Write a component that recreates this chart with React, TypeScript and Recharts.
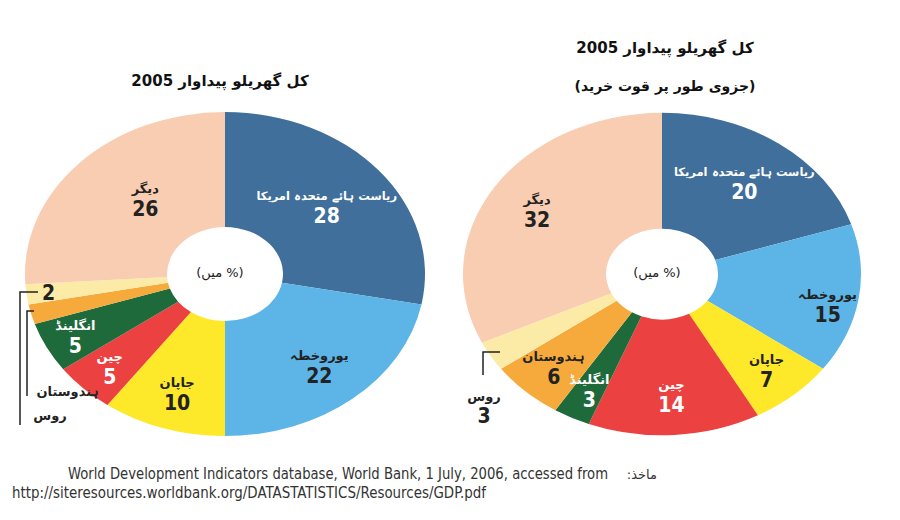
import { PieChart, Pie, Cell } from 'recharts';

const regionNames = ['ریاست ہائے متحدہ امریکا', 'یوروخطہ', 'جاپان', 'چین', 'انگلینڈ', 'ہندوستان', 'روس', 'دیگر'];
const gdp2005 = [28, 22, 10, 5, 5, 2, 2, 26];
const gdpPpp2005 = [20, 15, 7, 14, 3, 6, 3, 32];
const sliceColors = ['#3f6f9a', '#5cb5e6', '#fde829', '#ec4141', '#1f6a3b', '#f6aa3c', '#fbeba6', '#f8cdb1'];
const labelInk = ['#ffffff', '#222222', '#222222', '#ffffff', '#ffffff', '#222222', '#222222', '#222222'];

const leftData = regionNames.map((name, i) => ({ name, value: gdp2005[i] }));
const rightData = regionNames.map((name, i) => ({ name, value: gdpPpp2005[i] }));

const SY = 0.81;
const RAD = Math.PI / 180;
const urdu = '"DejaVu Sans", sans-serif';
const cond = '"DejaVu Sans Condensed", "Liberation Sans Narrow", "Liberation Sans", sans-serif';

// slices labelled inside the ring: radius and small angle nudge
const leftLabelPos: Record<number, [number, number]> = {
  0: [132, 0], 1: [148, 0], 2: [155, 0], 3: [163, 0], 4: [168, 0], 7: [122, -6],
};
const rightLabelPos: Record<number, [number, number]> = {
  0: [140, 0], 1: [170, -4], 2: [158, 0], 3: [150, 0], 4: [160, 0], 5: [158, 0], 7: [148, 0],
};

function makeLabel(pos: Record<number, [number, number]>) {
  return (props: any) => {
    const { cx, cy, midAngle, index, value, name } = props;
    const p = pos[index];
    if (!p) return null;
    const a = (midAngle + p[1]) * RAD;
    const x = cx + p[0] * Math.cos(-a);
    const y = cy + p[0] * Math.sin(-a);
    const ink = labelInk[index];
    return (
      <g transform={`translate(${x},${y}) scale(1,${1 / SY})`}>
        <text x={0} y={-6} textAnchor="middle" fill={ink} fontFamily={urdu} fontSize={index === 0 ? 11.5 : 13} fontWeight="bold" direction="rtl">
          {name}
        </text>
        <text x={0} y={17} textAnchor="middle" fill={ink} fontFamily={cond} fontSize={21} fontWeight="bold">
          {value}
        </text>
      </g>
    );
  };
}

export default function App() {
  return (
    <div style={{ position: 'relative', width: 900, height: 520, background: '#fff', overflow: 'hidden' }}>
      <style>{'body{margin:0}'}</style>
      <div style={{ position: 'absolute', left: 0, top: 0, width: 900, height: 520, transform: `scaleY(${SY})`, transformOrigin: '0 270px' }}>
        <PieChart width={900} height={520}>
          <Pie
            data={leftData}
            dataKey="value"
            nameKey="name"
            cx={220}
            cy={270}
            innerRadius={58}
            outerRadius={200}
            startAngle={90}
            endAngle={-270}
            stroke="none"
            labelLine={false}
            label={makeLabel(leftLabelPos)}
            isAnimationActive={false}
          >
            {leftData.map((d, i) => (
              <Cell key={d.name} fill={sliceColors[i]} />
            ))}
          </Pie>
          <Pie
            data={rightData}
            dataKey="value"
            nameKey="name"
            cx={657}
            cy={270}
            innerRadius={56}
            outerRadius={199}
            startAngle={90}
            endAngle={-270}
            stroke="none"
            labelLine={false}
            label={makeLabel(rightLabelPos)}
            isAnimationActive={false}
          >
            {rightData.map((d, i) => (
              <Cell key={d.name} fill={sliceColors[i]} />
            ))}
          </Pie>
        </PieChart>
      </div>

      <svg width={900} height={520} style={{ position: 'absolute', left: 0, top: 0, pointerEvents: 'none' }}>
        <text x={220} y={86} textAnchor="middle" fontFamily={urdu} fontSize={15} fontWeight="bold" fill="#111" direction="rtl">
          کل گھریلو پیداوار 2005
        </text>
        <text x={665} y={53} textAnchor="middle" fontFamily={urdu} fontSize={15} fontWeight="bold" fill="#111" direction="rtl">
          کل گھریلو پیداوار 2005
        </text>
        <text x={665} y={91} textAnchor="middle" fontFamily={urdu} fontSize={14} fontWeight="bold" fill="#111" direction="rtl">
          (جزوی طور پر قوت خرید)
        </text>

        <text x={220} y={277} textAnchor="middle" fontFamily={urdu} fontSize={13} fill="#222" direction="rtl">(% میں)</text>
        <text x={657} y={277} textAnchor="middle" fontFamily={urdu} fontSize={13} fill="#222" direction="rtl">(% میں)</text>

        {/* left leader brackets for India / Russia */}
        <polyline points="38,292 20,292 20,425" fill="none" stroke="#222" strokeWidth={1.5} />
        <polyline points="34,311 27,311 27,396" fill="none" stroke="#222" strokeWidth={1.5} />
        <text x={42} y={300} fontFamily={cond} fontSize={21} fontWeight="bold" fill="#222">{gdp2005[5]}</text>
        <text x={68} y={396} textAnchor="middle" fontFamily={urdu} fontSize={13} fontWeight="bold" fill="#222" direction="rtl">{regionNames[5]}</text>
        <text x={50} y={420} textAnchor="middle" fontFamily={urdu} fontSize={13} fontWeight="bold" fill="#222" direction="rtl">{regionNames[6]}</text>

        {/* right leader bracket for Russia */}
        <polyline points="500,352 483,352 483,375" fill="none" stroke="#222" strokeWidth={1.5} />
        <text x={484} y={401} textAnchor="middle" fontFamily={urdu} fontSize={13} fontWeight="bold" fill="#222" direction="rtl">{regionNames[6]}</text>
        <text x={484} y={423} textAnchor="middle" fontFamily={cond} fontSize={21} fontWeight="bold" fill="#222">{gdpPpp2005[6]}</text>

        <text x={68} y={479} fontFamily={cond} fontSize={15} fill="#333" textLength={540} lengthAdjust="spacingAndGlyphs">
          World Development Indicators database, World Bank, 1 July, 2006, accessed from
        </text>
        <text x={657} y={479} textAnchor="start" fontFamily={urdu} fontSize={13} fill="#333" direction="rtl">ماخذ:</text>
        <text x={12} y={498} fontFamily={cond} fontSize={15} fill="#333" textLength={474} lengthAdjust="spacingAndGlyphs">
          http://siteresources.worldbank.org/DATASTATISTICS/Resources/GDP.pdf
        </text>
      </svg>
    </div>
  );
}
